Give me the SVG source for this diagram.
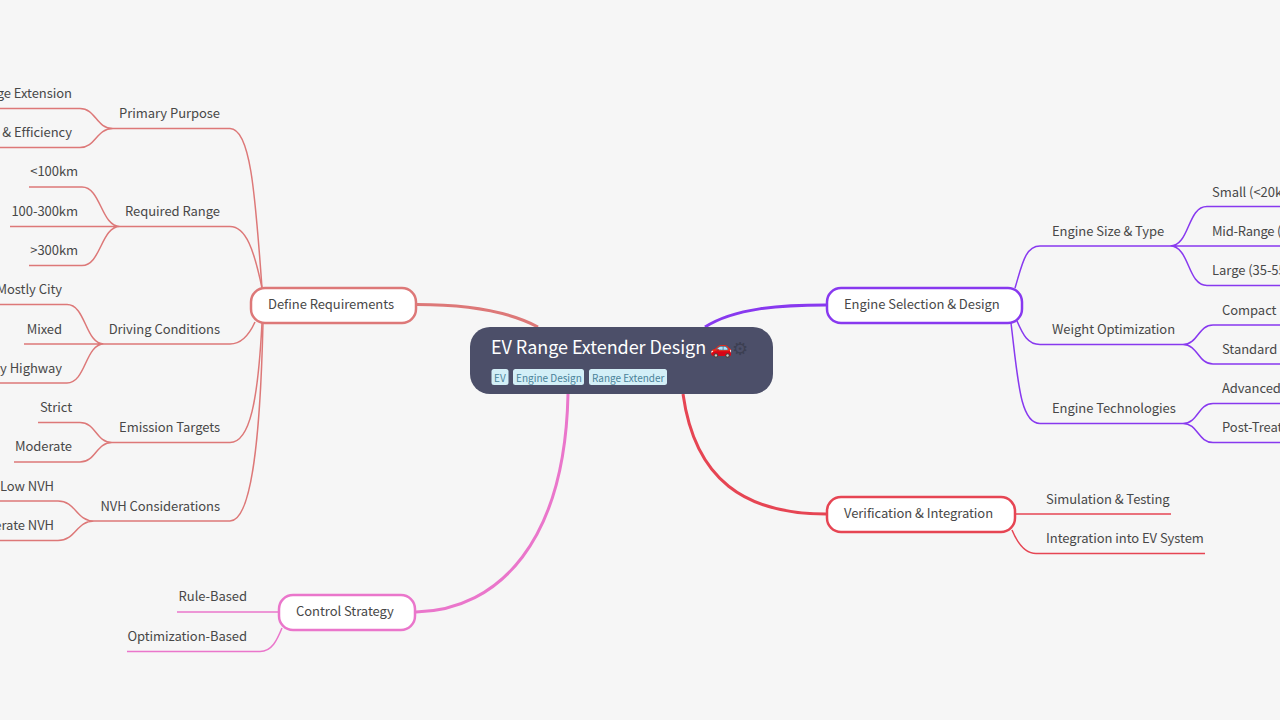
<svg xmlns="http://www.w3.org/2000/svg" width="1280" height="720" viewBox="0 0 1280 720">
<style>
text{font-family:"Noto Sans CJK SC","Noto Sans",sans-serif;font-size:13px;fill:#484848;letter-spacing:-.05px}
.e{text-anchor:end}
.c{fill:none}
.r{stroke:#dd7878}.p{stroke:#8839ef}.d{stroke:#e64553}.m{stroke:#ea76cb}
.l{stroke-width:1.5}.t{stroke-width:3}
.n{fill:#fff;stroke-width:2.5}
.tag{fill:#d3eff7}.tt{font-size:10px;fill:#4a8299;letter-spacing:0}
</style>
<rect width="1280" height="720" fill="#f6f6f6"/>
<g id="connectors" class="c">
<g class="r t"><path d="M417 304.500C470 304.500 510 312 538 327"/></g>
<g class="p t"><path d="M826 305C780 305 735 308 705 327"/></g>
<g class="d t"><path d="M826 514C745 514 695 480 683 394"/></g>
<g class="m t"><path d="M416 612C500 610 565 540 568 394"/></g>
<g class="r l">
<path d="M262 288C255 190 250 128.500 230 128.500H113"/>
<path d="M262 288C254 250 246 226.500 230 226.500H120"/>
<path d="M255 322C250 333 243 344 230 344H104"/>
<path d="M262 323C258 400 250 442.500 230 442.500H112"/>
<path d="M263 323C260 450 250 521 230 521H94"/>
<path d="M113 128.500C96 128.500 96 108.500 80 108.500H0M113 128.500C96 128.500 96 147.500 80 147.500H0"/>
<path d="M120 226.500C101 226.500 101 187 82 187H29M120 226.500H10M120 226.500C101 226.500 101 265.500 82 265.500H29"/>
<path d="M104 344C85 344 86 304.500 67 304.500H0M104 344H24M104 344C85 344 86 383 67 383H0"/>
<path d="M112 442.500C96 442.500 96 422.500 80 422.500H38M112 442.500C96 442.500 96 462 80 462H14"/>
<path d="M94 521C76 521 76 501 58 501H0M94 521C76 521 76 540.500 58 540.500H0"/>
</g>
<g class="p l">
<path d="M1015 288C1022 265 1025 246 1040 246H1170"/>
<path d="M1017 321C1023 335 1028 344.500 1040 344.500H1183"/>
<path d="M1011 323C1018 380 1020 423.500 1040 423.500H1183"/>
<path d="M1170 246C1190 246 1187 206.500 1207 206.500H1280M1170 246H1280M1170 246C1190 246 1187 285.500 1207 285.500H1280"/>
<path d="M1183 344.500C1198 344.500 1198 325 1213 325H1280M1183 344.500C1198 344.500 1198 364 1213 364H1280"/>
<path d="M1183 423.500C1198 423.500 1198 403.500 1213 403.500H1280M1183 423.500C1198 423.500 1198 442.500 1213 442.500H1280"/>
</g>
<g class="d l">
<path d="M1016 514H1171"/>
<path d="M1012 530C1017 542 1024 553.500 1036 553.500H1205"/>
</g>
<g class="m l">
<path d="M278 612H177"/>
<path d="M282 628C277 640 272 651.500 260 651.500H127"/>
</g>
</g>
<g id="root"><rect x="470" y="327" width="303" height="67" rx="20" fill="#4c4f69"/>
<text x="491" y="354" style="font-size:18px;fill:#fff">EV Range Extender Design</text>
<text x="710" y="354" style="font-size:18px;fill:#fff">🚗</text>
<text x="732" y="355" style="font-size:18px;fill:#3c3f52;font-family:'DejaVu Sans',sans-serif">⚙</text>
<rect class="tag" x="491.500" y="369" width="17" height="16" rx="2.500"/><text class="tt" x="494" y="382">EV</text>
<rect class="tag" x="513" y="369" width="71" height="16" rx="2.500"/><text class="tt" x="516" y="382">Engine Design</text>
<rect class="tag" x="589" y="369" width="78" height="16" rx="2.500"/><text class="tt" x="592" y="382">Range Extender</text>
</g>
<g id="define"><rect class="n r" x="251" y="288" width="165" height="35" rx="14"/><text x="268" y="309">Define Requirements</text></g>
<g id="engine"><rect class="n p" x="827" y="288" width="195" height="35" rx="14"/><text x="844" y="309">Engine Selection &amp; Design</text></g>
<g id="verify"><rect class="n d" x="827" y="497" width="188" height="35" rx="14"/><text x="844" y="518">Verification &amp; Integration</text></g>
<g id="control"><rect class="n m" x="279" y="595" width="136" height="35" rx="14"/><text x="296" y="616">Control Strategy</text></g>
<g id="n-primary"><text class="e" x="220" y="118">Primary Purpose</text></g>
<g id="n-range"><text class="e" x="220" y="216">Required Range</text></g>
<g id="n-driving"><text class="e" x="220" y="334">Driving Conditions</text></g>
<g id="n-emission"><text class="e" x="220" y="432">Emission Targets</text></g>
<g id="n-nvh"><text class="e" x="220" y="511">NVH Considerations</text></g>
<g id="n-l1"><text class="e" x="72" y="98">Range Extension</text></g>
<g id="n-l2"><text class="e" x="72" y="137">&amp; Efficiency</text></g>
<g id="n-l3"><text class="e" x="78" y="176">&lt;100km</text></g>
<g id="n-l4"><text class="e" x="78" y="216">100-300km</text></g>
<g id="n-l5"><text class="e" x="78" y="255">&gt;300km</text></g>
<g id="n-l6"><text class="e" x="62" y="294">Mostly City</text></g>
<g id="n-l7"><text class="e" x="62" y="334">Mixed</text></g>
<g id="n-l8"><text class="e" x="62" y="373">Mostly Highway</text></g>
<g id="n-l9"><text class="e" x="72" y="412">Strict</text></g>
<g id="n-l10"><text class="e" x="72" y="451">Moderate</text></g>
<g id="n-l11"><text class="e" x="54" y="491">Low NVH</text></g>
<g id="n-l12"><text class="e" x="54" y="530">Moderate NVH</text></g>
<g id="n-rb"><text class="e" x="247" y="601">Rule-Based</text></g>
<g id="n-ob"><text class="e" x="247" y="641">Optimization-Based</text></g>
<g id="n-size"><text x="1052" y="236">Engine Size &amp; Type</text></g>
<g id="n-weight"><text x="1052" y="334">Weight Optimization</text></g>
<g id="n-tech"><text x="1052" y="413">Engine Technologies</text></g>
<g id="n-small"><text x="1212" y="197">Small (&lt;20k</text></g>
<g id="n-mid"><text x="1212" y="236" style="letter-spacing:-.25px">Mid-Range (</text></g>
<g id="n-large"><text x="1212" y="275">Large (35-55</text></g>
<g id="n-compact"><text x="1222" y="315">Compact</text></g>
<g id="n-standard"><text x="1222" y="354">Standard</text></g>
<g id="n-adv"><text x="1222" y="393">Advanced</text></g>
<g id="n-post"><text x="1222" y="432">Post-Treat</text></g>
<g id="n-sim"><text x="1046" y="504">Simulation &amp; Testing</text></g>
<g id="n-int"><text x="1046" y="543">Integration into EV System</text></g>
</svg>
